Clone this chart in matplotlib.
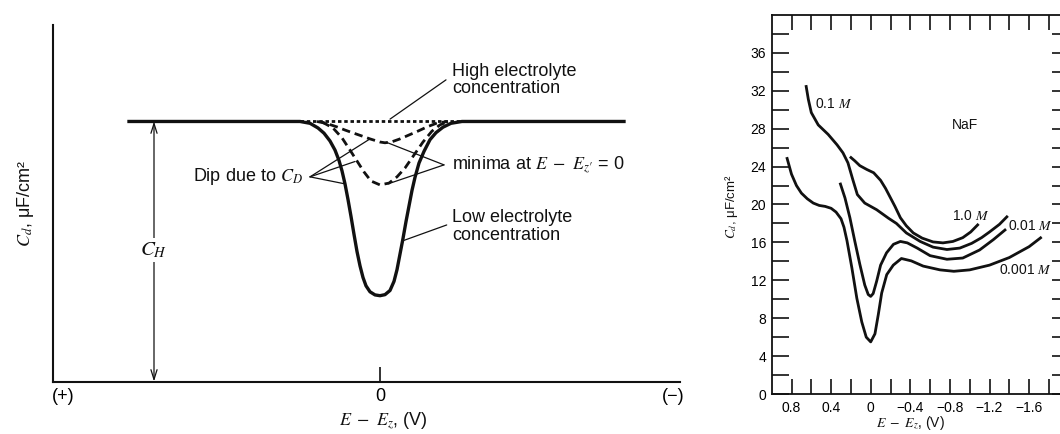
import matplotlib
matplotlib.use("Agg")
import matplotlib.pyplot as plt
from matplotlib.ticker import FixedLocator

plt.rcParams["font.family"] = ["Liberation Sans", "DejaVu Sans"]
plt.rcParams["mathtext.fontset"] = "stix"
plt.rcParams["lines.scale_dashes"] = False

# ---------------- schematic: C_d vs E - E_z (C_H normalised to 1) ----------------
low_x = [-2.51, -0.80, -0.70, -0.62, -0.56, -0.50, -0.45, -0.41, -0.38, -0.35, -0.32,
         -0.29, -0.26, -0.23, -0.20, -0.17, -0.14, -0.10, -0.05, 0.0, 0.05, 0.10, 0.14,
         0.17, 0.20, 0.23, 0.26, 0.29, 0.32, 0.35, 0.39, 0.44, 0.50, 0.56, 0.63, 0.71,
         0.82, 2.44]
low_c = [1.0, 1.0, 0.993, 0.975, 0.955, 0.925, 0.89, 0.85, 0.81, 0.76, 0.70,
         0.635, 0.566, 0.50, 0.445, 0.40, 0.368, 0.345, 0.333, 0.330, 0.334, 0.350, 0.385,
         0.43, 0.49, 0.55, 0.615, 0.675, 0.735, 0.785, 0.84, 0.885, 0.93, 0.957, 0.978, 0.993,
         1.0, 1.0]

mid_lo_x = [-0.58, -0.47, -0.38, -0.30, -0.23, -0.16, -0.09, 0.0, 0.09, 0.17, 0.25,
            0.34, 0.43, 0.52, 0.60, 0.67]
mid_lo_c = [0.998, 0.975, 0.937, 0.890, 0.848, 0.806, 0.771, 0.756, 0.763, 0.787, 0.821,
            0.871, 0.921, 0.963, 0.987, 0.998]

mid_hi_x = [-0.63, -0.53, -0.43, -0.35, -0.27, -0.18, -0.10, 0.0, 0.05, 0.12, 0.20,
            0.29, 0.38, 0.47, 0.57, 0.68]
mid_hi_c = [1.0, 0.992, 0.979, 0.967, 0.956, 0.944, 0.933, 0.921, 0.918, 0.922, 0.933,
            0.948, 0.963, 0.979, 0.994, 1.0]

high_x = [-0.80, 0.85]
high_c = [1.0, 1.0]

ch_x = -2.26
left_tick_pos = [-3.17, 0.0, 2.93]
left_tick_labels = ["(+)", "0", "(\u2212)"]

# ---------------- NaF measurements ----------------
naf_01_E = [0.654, 0.63, 0.60, 0.53, 0.43, 0.34, 0.28, 0.23, 0.18, 0.135, 0.06, -0.06,
            -0.18, -0.26, -0.36, -0.50, -0.63, -0.77, -0.90, -1.02, -1.12, -1.20, -1.30, -1.385]
naf_01_C = [32.6, 31.1, 29.7, 28.4, 27.4, 26.3, 25.45, 24.4, 22.6, 21.05, 20.15, 19.45,
            18.55, 18.0, 17.0, 16.1, 15.5, 15.25, 15.4, 15.9, 16.5, 17.1, 17.9, 18.8]

naf_1_E = [0.21, 0.16, 0.11, 0.04, -0.03, -0.10, -0.15, -0.20, -0.245, -0.30, -0.36,
           -0.43, -0.52, -0.63, -0.73, -0.83, -0.93, -1.01, -1.09]
naf_1_C = [25.05, 24.6, 24.1, 23.7, 23.35, 22.55, 21.7, 20.7, 19.8, 18.6, 17.75,
           17.0, 16.45, 16.05, 15.95, 16.1, 16.5, 17.1, 17.95]

naf_001_E = [0.31, 0.26, 0.21, 0.16, 0.11, 0.06, 0.025, 0.0, -0.025, -0.06, -0.10,
             -0.16, -0.23, -0.30, -0.37, -0.47, -0.60, -0.77, -0.93, -1.10, -1.24, -1.367]
naf_001_C = [22.3, 20.7, 18.6, 16.1, 13.7, 11.5, 10.5, 10.3, 10.6, 11.9, 13.6,
             14.9, 15.8, 16.1, 15.95, 15.4, 14.6, 14.22, 14.35, 15.2, 16.3, 17.4]

naf_0001_E = [0.848, 0.80, 0.75, 0.70, 0.64, 0.58, 0.52, 0.46, 0.40, 0.35, 0.30, 0.27,
              0.24, 0.19, 0.14, 0.09, 0.045, 0.0, -0.043, -0.077, -0.111, -0.162, -0.228,
              -0.31, -0.41, -0.53, -0.70, -0.84, -1.0, -1.2, -1.4, -1.6, -1.727]
naf_0001_C = [25.0, 23.2, 22.0, 21.2, 20.6, 20.15, 19.9, 19.8, 19.6, 19.2, 18.5, 17.6,
              16.2, 13.3, 10.1, 7.6, 6.0, 5.5, 6.35, 8.4, 10.66, 12.6, 13.6,
              14.3, 14.05, 13.5, 13.1, 12.95, 13.1, 13.6, 14.4, 15.55, 16.57]

x_major = [0.8, 0.4, 0.0, -0.4, -0.8, -1.2, -1.6]
x_major_labels = ["0.8", "0.4", "0", "\u22120.4", "\u22120.8", "\u22121.2", "\u22121.6"]
x_minor = [0.6, 0.2, -0.2, -0.6, -1.0, -1.4, -1.8]
y_major = [0, 4, 8, 12, 16, 20, 24, 28, 32, 36]
y_minor = [2, 6, 10, 14, 18, 22, 26, 30, 34, 38]

ink = "#111111"
W, H = 1060, 434
fig = plt.figure(figsize=(W / 100, H / 100), dpi=100)

# ======================= left: schematic =======================
axL = fig.add_axes([53 / W, 1 - 381.5 / H, 627 / W, 356.5 / H])
axL.set_xlim(-3.27, 3.00)
axL.set_ylim(0, 1.371)
for s in ("top", "right"):
    axL.spines[s].set_visible(False)
for s in ("left", "bottom"):
    axL.spines[s].set_linewidth(1.5)
    axL.spines[s].set_color(ink)
axL.set_yticks([])
axL.set_xticks(left_tick_pos, left_tick_labels)
axL.tick_params(axis="x", direction="in", length=11, width=1.2, color=ink,
                labelsize=13, pad=5)
ticks = axL.xaxis.get_major_ticks()
ticks[0].tick1line.set_visible(False)
ticks[2].tick1line.set_visible(False)

axL.plot(low_x, low_c, color=ink, lw=2.4, zorder=3, solid_joinstyle="round")
axL.plot(mid_lo_x, mid_lo_c, color=ink, lw=2.0, dashes=(6, 3.5), zorder=4)
axL.plot(mid_hi_x, mid_hi_c, color=ink, lw=2.0, dashes=(6, 3.5), zorder=4)
axL.plot(high_x, high_c, color=ink, lw=2.0, dashes=(2.5, 2.0), zorder=5)

# C_H span arrow
axL.annotate("", xy=(ch_x, 0), xytext=(ch_x, 1.0),
             arrowprops=dict(arrowstyle="<->,head_length=0.7,head_width=0.22",
                             lw=0.9, color=ink, shrinkA=0, shrinkB=0))
axL.text(ch_x, 0.506, r"$C_H$", ha="center", va="center", fontsize=15, color=ink,
         bbox=dict(fc="white", ec="none", pad=1.5), zorder=6)


def leader(ax, start, end):
    ax.annotate("", xy=end, xytext=start,
                arrowprops=dict(arrowstyle="-", lw=0.9, color=ink, shrinkA=0, shrinkB=0))


leader(axL, (0.66, 1.160), (0.10, 1.009))
leader(axL, (-0.70, 0.787), (-0.10, 0.933))
leader(axL, (-0.70, 0.787), (-0.25, 0.846))
leader(axL, (-0.70, 0.787), (-0.35, 0.76))
leader(axL, (0.64, 0.833), (0.07, 0.919))
leader(axL, (0.64, 0.833), (0.08, 0.760))
leader(axL, (0.667, 0.602), (0.22, 0.54))

axL.text(0.72, 1.16, "High electrolyte\nconcentration", fontsize=13, ha="left",
         va="center", linespacing=1.05, color=ink)
axL.text(-0.77, 0.787, r"Dip due to $C_D$", fontsize=13, ha="right", va="center", color=ink)
axL.text(0.72, 0.833, r"minima at $E\ -\ E_{z\prime}$ = 0", fontsize=13, ha="left",
         va="center", color=ink)
axL.text(0.72, 0.595, "Low electrolyte\nconcentration", fontsize=13, ha="left",
         va="center", linespacing=1.05, color=ink)

fig.text(25 / W, 1 - 203 / H, r"$C_d$, μF/cm²", rotation=90, ha="center", va="center",
         fontsize=13, color=ink)
fig.text(383 / W, 1 - 421 / H, r"$E\ -\ E_z$, (V)", ha="center", va="center",
         fontsize=13, color=ink)

# ======================= right: NaF data =======================
axR = fig.add_axes([771.7 / W, 1 - 394 / H, 297 / W, 379 / H])
axR.set_xlim(1.0, -2.0)
axR.set_ylim(0, 40)
for s in axR.spines.values():
    s.set_linewidth(1.3)
    s.set_color(ink)

for E, C in ((naf_01_E, naf_01_C), (naf_1_E, naf_1_C),
             (naf_001_E, naf_001_C), (naf_0001_E, naf_0001_C)):
    axR.plot(E, C, color=ink, lw=2.0, solid_joinstyle="round", solid_capstyle="butt")

axR.set_xticks(x_major, x_major_labels)
axR.xaxis.set_minor_locator(FixedLocator(x_minor))
axR.set_yticks(y_major, [str(v) for v in y_major])
axR.yaxis.set_minor_locator(FixedLocator(y_minor))
axR.tick_params(axis="x", which="both", direction="in", top=True, bottom=True,
                length=11, width=1.2, color=ink, labelsize=10, pad=5)
axR.tick_params(axis="y", which="both", direction="in", left=True, right=True,
                length=12, width=1.2, color=ink, labelsize=10, pad=4)

axR.text(0.563, 30.64, r"0.1 $M$", fontsize=10, ha="left", va="center", color=ink)
axR.text(-0.955, 28.42, "NaF", fontsize=10, ha="center", va="center", color=ink)
axR.text(-0.82, 18.75, r"1.0 $M$", fontsize=10, ha="left", va="center", color=ink)
axR.text(-1.39, 17.76, r"0.01 $M$", fontsize=10, ha="left", va="center", color=ink)
axR.text(-1.30, 13.12, r"0.001 $M$", fontsize=10, ha="left", va="center", color=ink)

fig.text(731 / W, 1 - 207 / H, r"$C_d$, μF/cm²", rotation=90, ha="center", va="center",
         fontsize=9.5, color=ink)
fig.text(910 / W, 1 - 423 / H, r"$E\ -\ E_z$, (V)", ha="center", va="center",
         fontsize=10, color=ink)

fig.savefig("out.png", dpi=100)
